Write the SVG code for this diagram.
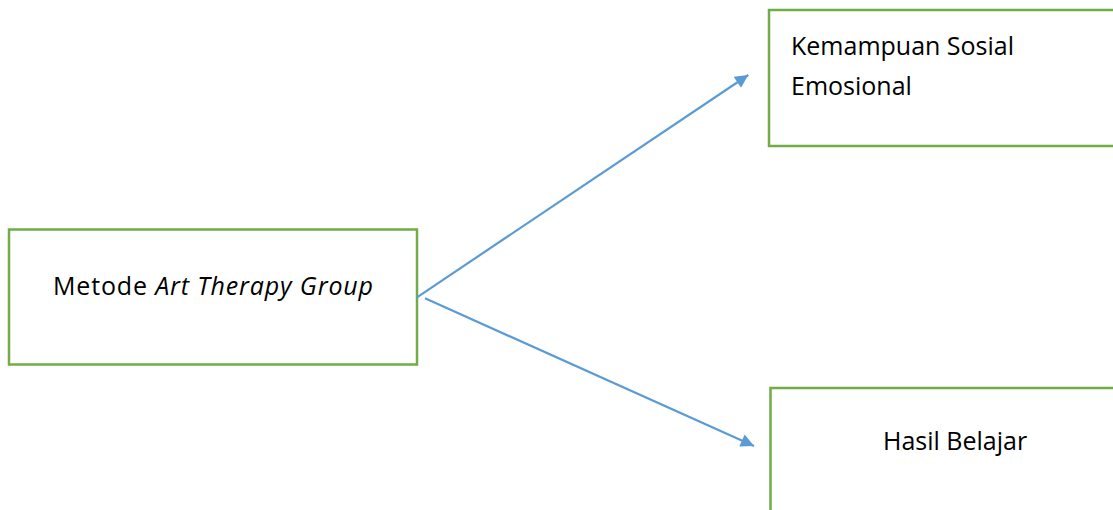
<svg xmlns="http://www.w3.org/2000/svg" width="1113" height="510" viewBox="0 0 1113 510">
<style>
.box{fill:#fff;stroke:#70AD47;stroke-width:2.5}
.lbl{font-family:"Open Sans","Liberation Sans",sans-serif;font-size:25px;fill:#000}
.con{stroke:#5B9BD5;stroke-width:2.2;fill:none}
</style>
<defs>
<marker id="ah" viewBox="0 0 10 10" refX="10" refY="5" markerWidth="7.5" markerHeight="6" orient="auto" markerUnits="strokeWidth">
<path d="M0,0 L10,5 L0,10 z" fill="#5B9BD5"/>
</marker>
</defs>
<rect width="1113" height="510" fill="#fff"/>
<g id="node-metode">
<rect class="box" x="9" y="229.5" width="408" height="135"/>
<text class="lbl" x="53" y="295" textLength="320" lengthAdjust="spacing">Metode <tspan font-style="italic">Art Therapy Group</tspan></text>
</g>
<g id="node-sosial">
<rect class="box" x="769" y="10" width="360" height="136"/>
<text class="lbl" x="791" y="55">Kemampuan Sosial</text>
<text class="lbl" x="791" y="95">Emosional</text>
</g>
<g id="node-hasil">
<rect class="box" x="770.5" y="388" width="360" height="140"/>
<text class="lbl" x="883" y="450">Hasil Belajar</text>
</g>
<g id="connectors">
<line class="con" x1="417" y1="297.3" x2="748.3" y2="75" marker-end="url(#ah)"/>
<line class="con" x1="425" y1="298.3" x2="754" y2="446" marker-end="url(#ah)"/>
</g>
</svg>
